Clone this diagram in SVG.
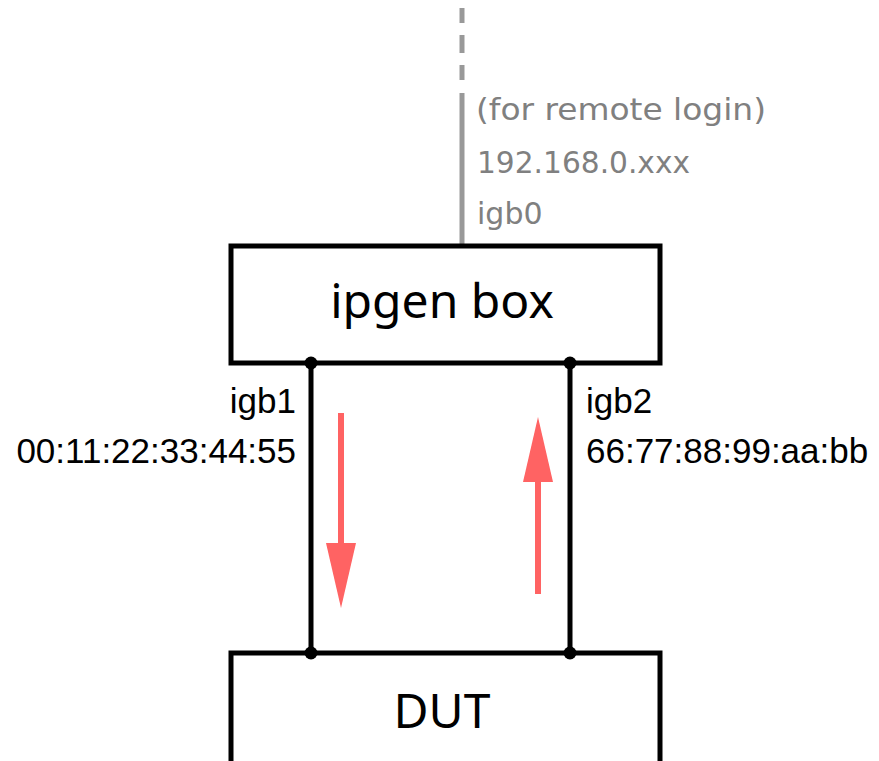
<svg xmlns="http://www.w3.org/2000/svg" width="879" height="761" viewBox="0 0 879 761">
<style>
.box{fill:#fff;stroke:#000;stroke-width:5;stroke-linejoin:miter}
.wire{stroke:#000;stroke-width:5;fill:none}
.dot{fill:#000}
.title{font-family:"Noto Sans","Open Sans",sans-serif;font-size:48px;fill:#000;text-anchor:middle}
.lbl{font-family:"Liberation Sans",Arial,sans-serif;font-size:35px;fill:#000}
.gray{font-family:"DejaVu Sans",sans-serif;font-size:30px;fill:#808080}
.mgmt{stroke:#999;stroke-width:5;fill:none}
.flow{stroke:#ff6363;stroke-width:6;fill:none}
.head{fill:#ff6363}
</style>
<rect width="879" height="761" fill="#fff"/>
<g id="connectors">
<path class="mgmt" d="M462,8V23M462,35V53M462,65V80M462,93V245"/>
<line class="wire" x1="311" y1="363" x2="311" y2="653"/>
<line class="wire" x1="570" y1="363" x2="570" y2="653"/>
<line class="flow" x1="341" y1="413" x2="341" y2="546"/>
<polygon class="head" points="326,543 356,543 341,608"/>
<line class="flow" x1="538" y1="594" x2="538" y2="479"/>
<polygon class="head" points="523,482 553,482 538,417"/>
</g>
<g id="mgmt-label">
<text class="gray" x="476" y="120" textLength="290" lengthAdjust="spacingAndGlyphs">(for remote login)</text>
<text class="gray" x="477" y="173" textLength="213" lengthAdjust="spacingAndGlyphs">192.168.0.xxx</text>
<text class="gray" x="477" y="224">igb0</text>
</g>
<g id="ipgen-box">
<rect class="box" x="231" y="246" width="429" height="117"/>
<text class="title" x="442" y="318">ipgen box</text>
</g>
<g id="dut">
<rect class="box" x="231" y="653" width="429" height="150"/>
<text class="title" x="442" y="728">DUT</text>
</g>
<g id="ports">
<circle class="dot" cx="311" cy="363" r="6.5"/>
<circle class="dot" cx="570" cy="363" r="6.5"/>
<circle class="dot" cx="311" cy="653" r="6.5"/>
<circle class="dot" cx="570" cy="653" r="6.5"/>
<text class="lbl" x="296" y="413" text-anchor="end">igb1</text>
<text class="lbl" x="296" y="463" text-anchor="end">00:11:22:33:44:55</text>
<text class="lbl" x="586" y="413">igb2</text>
<text class="lbl" x="586" y="463">66:77:88:99:aa:bb</text>
</g>
</svg>
